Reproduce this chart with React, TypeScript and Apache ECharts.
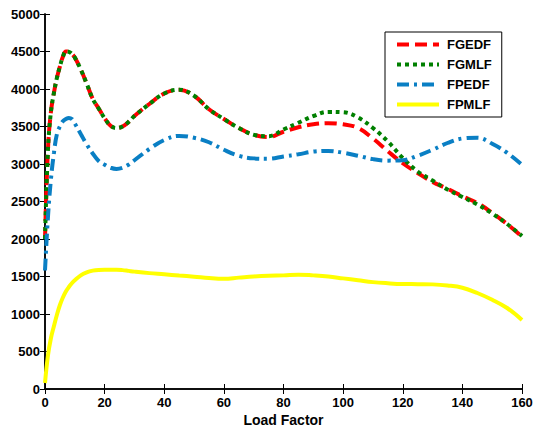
import React, { useEffect, useRef } from "react";
import * as echarts from "echarts";

const xValues = [0, 1, 2, 3, 4, 5, 6, 7, 8, 9, 10, 12, 14, 16, 18, 20, 22, 24, 26, 28, 30, 35, 40, 45, 50, 55, 60, 65, 70, 75, 80, 85, 90, 95, 100, 105, 110, 115, 120, 125, 130, 135, 140, 145, 150, 155, 160];

const fgedf = [2000, 3200, 3700, 3950, 4150, 4300, 4430, 4500, 4495, 4470, 4420, 4260, 4070, 3870, 3740, 3610, 3510, 3480, 3500, 3560, 3640, 3800, 3940, 3990, 3910, 3730, 3600, 3480, 3390, 3360, 3430, 3490, 3530, 3545, 3530, 3480, 3340, 3170, 3010, 2880, 2760, 2670, 2570, 2480, 2350, 2200, 2030];

const fgmlf = [2000, 3200, 3700, 3950, 4150, 4300, 4430, 4500, 4495, 4470, 4420, 4260, 4070, 3870, 3740, 3610, 3510, 3480, 3500, 3560, 3640, 3800, 3940, 3990, 3910, 3730, 3600, 3480, 3390, 3370, 3460, 3550, 3640, 3695, 3690, 3620, 3480, 3300, 3080, 2900, 2780, 2660, 2560, 2460, 2340, 2200, 2040];

const fpedf = [1580, 2300, 2800, 3150, 3400, 3500, 3570, 3600, 3615, 3600, 3540, 3400, 3260, 3140, 3040, 2990, 2950, 2935, 2950, 2990, 3050, 3200, 3320, 3375, 3350, 3290, 3190, 3110, 3075, 3070, 3100, 3130, 3165, 3175, 3150, 3110, 3065, 3045, 3050, 3110, 3190, 3280, 3340, 3350, 3270, 3150, 2990];

const fpmlf = [80, 450, 680, 840, 990, 1120, 1220, 1300, 1360, 1410, 1450, 1515, 1555, 1578, 1588, 1590, 1590, 1590, 1585, 1575, 1565, 1545, 1530, 1513, 1498, 1480, 1470, 1485, 1500, 1510, 1515, 1525, 1515, 1500, 1475, 1450, 1425, 1410, 1400, 1398, 1395, 1380, 1350, 1280, 1190, 1080, 920];

const seriesNames = ["FGEDF", "FGMLF", "FPEDF", "FPMLF"];
const seriesColors = ["#ff0000", "#008000", "#0a7fc4", "#ffff00"];
const seriesDash: any[] = [[12, 6], [4, 4], [12, 5, 3, 5], "solid"];
const seriesValues = [fgedf, fgmlf, fpedf, fpmlf];
const xAxisTitle = "Load Factor";

const xTicks = { min: 0, max: 160, interval: 20 };
const yTicks = { min: 0, max: 5000, interval: 500 };

export default function App() {
  const ref = useRef<HTMLDivElement>(null);
  useEffect(() => {
    if (!ref.current) return;
    const chart = echarts.init(ref.current, null, { renderer: "svg" });
    const font = "'Liberation Sans', Arial, sans-serif";
    const axisLine = { show: true, lineStyle: { color: "#000", width: 1.5 } };
    const axisTick = { show: true, inside: true, length: 5, lineStyle: { color: "#000", width: 1 } };
    const label = { color: "#000", fontWeight: "bold" as const, fontSize: 13, fontFamily: font, formatter: (v: number) => String(v) };
    chart.setOption({
      animation: false,
      backgroundColor: "#fff",
      grid: { left: 45, right: 13, top: 14, bottom: 38, containLabel: false, outerBoundsMode: "none" },
      legend: {
        orient: "vertical",
        left: 385,
        top: 32,
        padding: [6, 10, 6, 10],
        itemWidth: 42,
        itemHeight: 14,
        itemGap: 7,
        borderColor: "#000",
        borderWidth: 1,
        backgroundColor: "#fff",
        itemStyle: { opacity: 0 },
        lineStyle: { width: 4 },
        textStyle: { color: "#000", fontWeight: "bold", fontSize: 13, fontFamily: font, padding: [0, 0, 0, 3] },
        data: seriesNames,
      },
      graphic: [
        {
          type: "text",
          x: 283.5,
          y: 419.5,
          style: {
            text: xAxisTitle,
            fill: "#000",
            font: `bold 14px ${font}`,
            textAlign: "center",
            textVerticalAlign: "middle",
          },
        },
      ],
      xAxis: [
        {
          type: "value",
          ...xTicks,
          axisLine,
          axisTick,
          axisLabel: { ...label, margin: 7 },
          splitLine: { show: false },
        },
        {
          type: "value",
          position: "top",
          ...xTicks,
          axisLine,
          axisTick,
          axisLabel: { show: false },
          splitLine: { show: false },
        },
      ],
      yAxis: [
        {
          type: "value",
          ...yTicks,
          axisLine,
          axisTick,
          axisLabel: { ...label, margin: 5 },
          splitLine: { show: false },
        },
        {
          type: "value",
          position: "right",
          ...yTicks,
          axisLine,
          axisTick,
          axisLabel: { show: false },
          splitLine: { show: false },
        },
      ],
      series: seriesNames.map((name, i) => ({
        name,
        type: "line",
        xAxisIndex: 0,
        yAxisIndex: 0,
        smooth: 0.4,
        symbol: "none",
        showSymbol: false,
        color: seriesColors[i],
        lineStyle: { color: seriesColors[i], width: 4, type: seriesDash[i] },
        data: xValues.map((x, j) => [x, seriesValues[i][j]]),
      })),
    });
    return () => chart.dispose();
  }, []);
  return <div ref={ref} style={{ position: "absolute", left: 0, top: 0, width: 535, height: 427 }} />;
}
